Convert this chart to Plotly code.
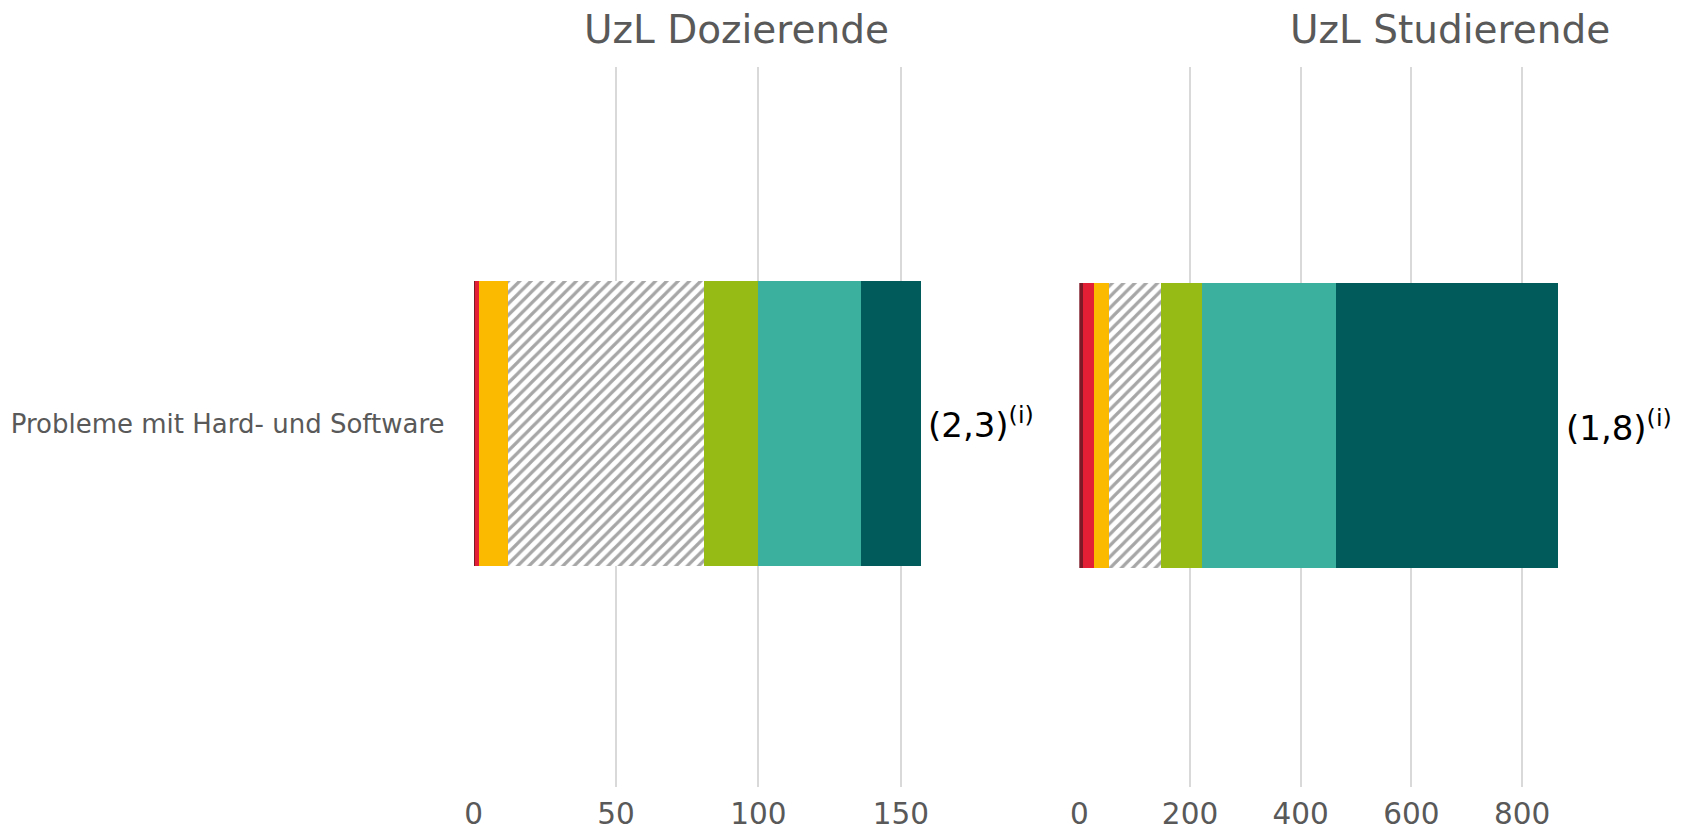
import plotly.graph_objects as go

categories = ["Probleme mit Hard- und Software"]
series_names = ["Stufe 1", "Stufe 2", "Stufe 3", "keine Angabe", "Stufe 4", "Stufe 5", "Stufe 6"]
series_colors = ["#7D1A28", "#E31F35", "#FBBA00", "hatch", "#95BB14", "#3CB09F", "#025B5B"]
dozierende = [0.5, 1.3, 10, 69, 19, 36, 21]
studierende = [7, 20, 27, 95, 74, 242, 400]
mean_labels = ["(2,3)", "(1,8)"]
panel_titles = ["UzL Dozierende", "UzL Studierende"]
x_ticks_left = [0, 50, 100, 150]
x_ticks_right = [0, 200, 400, 600, 800]

W, H = 1697, 831
FONT = "DejaVu Sans"
GREY = "#595959"
GRID = "#D9D9D9"

fig = go.Figure()

def add_panel(values, xa, ya):
    for name, col, v in zip(series_names, series_colors, values):
        if col == "hatch":
            marker = dict(color="white",
                          pattern=dict(shape="/", fgcolor="#A6A6A6", bgcolor="white",
                                       size=8, solidity=0.4, fillmode="replace"),
                          line=dict(width=0))
        else:
            marker = dict(color=col, line=dict(width=0))
        fig.add_trace(go.Bar(x=[v], y=[0], orientation="h", name=name, marker=marker,
                             width=0.3955, xaxis=xa, yaxis=ya, showlegend=False,
                             hoverinfo="x+name"))

add_panel(dozierende, "x", "y")
add_panel(studierende, "x2", "y2")

def px(x):
    return x / W

axis_common = dict(showgrid=True, gridcolor=GRID, gridwidth=1.5, zeroline=False,
                   showline=False, ticks="", ticklabelstandoff=6,
                   tickfont=dict(family=FONT, size=29.5, color=GREY))

fig.update_layout(
    width=W, height=H,
    margin=dict(l=0, r=0, t=67, b=30),
    paper_bgcolor="white", plot_bgcolor="white",
    barmode="stack", bargap=0,
    xaxis=dict(domain=[px(467), px(982.5)], range=[0, 180], tickvals=x_ticks_left,
               anchor="y", **axis_common),
    xaxis2=dict(domain=[px(1076), px(1627)], range=[0, 990], tickvals=x_ticks_right,
                anchor="y2", **axis_common),
    yaxis=dict(range=[-0.505, 0.495], tickvals=[0], ticktext=categories, showgrid=False,
               zeroline=False, showline=False, ticks="", ticklabelstandoff=28,
               tickfont=dict(family=FONT, size=26, color=GREY), anchor="x"),
    yaxis2=dict(range=[-0.502, 0.498], showticklabels=False, showgrid=False,
                zeroline=False, showline=False, anchor="x2"),
)

annotations = []
for xa, vals, lab in [("x", dozierende, mean_labels[0]), ("x2", studierende, mean_labels[1])]:
    annotations.append(dict(x=sum(vals), y=0, xref=xa, yref="y" if xa == "x" else "y2",
                            text=lab + "<sup>(i)</sup>", showarrow=False, xanchor="left",
                            yanchor="middle", xshift=6,
                            font=dict(family=FONT, size=34, color="black")))

for title, cx in zip(panel_titles, [731.6, 1449]):
    annotations.append(dict(x=px(cx), y=1 + (67 - 29) / 734, xref="paper", yref="paper",
                            text=title, showarrow=False, xanchor="center", yanchor="middle",
                            font=dict(family=FONT, size=39, color=GREY)))

fig.update_layout(annotations=annotations)
fig.write_html("out.html", config={"displayModeBar": False},
               post_script="document.body.style.margin='0';document.body.style.overflow='hidden';")
